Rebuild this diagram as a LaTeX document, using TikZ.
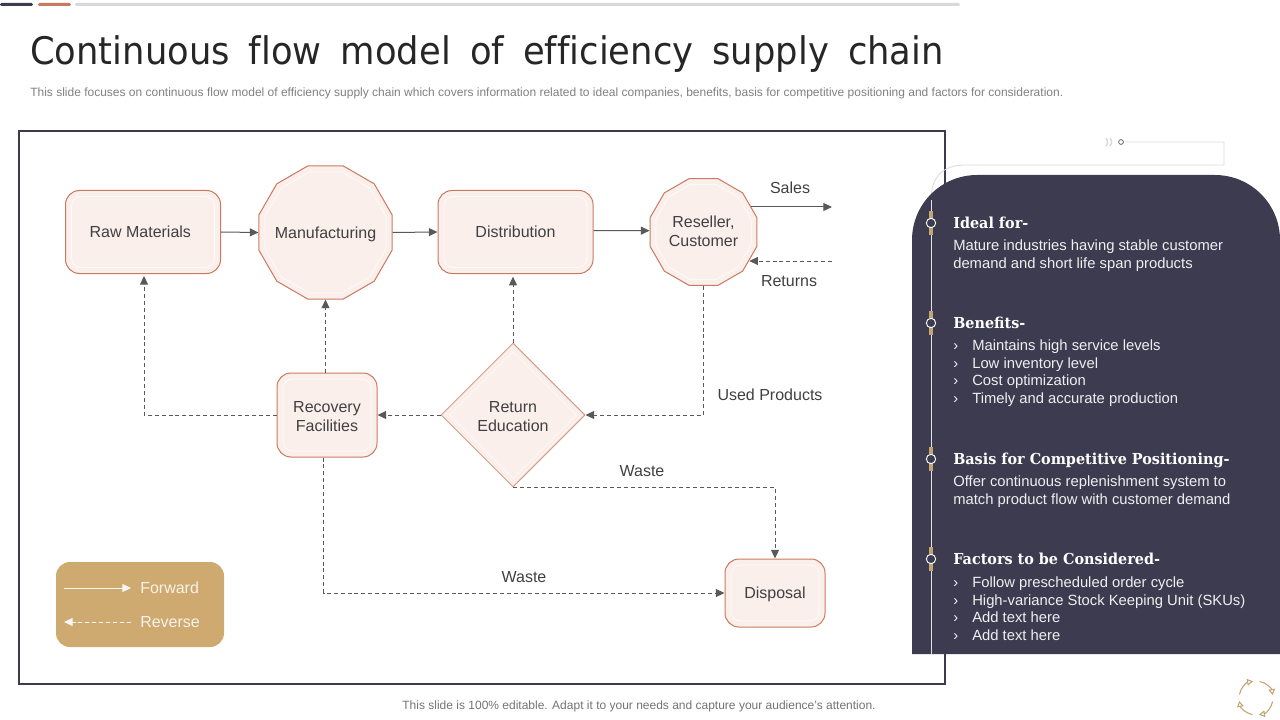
\documentclass[tikz,border=0pt]{standalone}
\usepackage{fontspec}
\setmainfont{Liberation Sans}
\newfontfamily\titlefont[WordSpace=1.7,FakeStretch=0.93,Ligatures={NoCommon}]{DejaVu Sans}
\newfontfamily\headfont[FakeStretch=0.95]{DejaVu Serif}
\usetikzlibrary{arrows.meta,shapes.geometric}
\definecolor{slate}{HTML}{3D3B4F}
\definecolor{rust}{HTML}{C9795F}
\definecolor{blush}{HTML}{FBEFEC}
\definecolor{tan}{HTML}{CFAA70}
\definecolor{ink}{HTML}{404040}
\definecolor{wire}{HTML}{595959}
\definecolor{haze}{HTML}{D9D9D9}
\tikzset{
	flow/.style={draw=wire,line width=0.75pt,-{Triangle[length=6.5pt,width=6pt]}},
	back/.style={flow,dash pattern=on 3pt off 2.2pt},
	label/.style={font=\fontsize{12}{14.25}\selectfont,text=ink,inner sep=0pt,align=center},
	oneline/.style={text height=11.6pt,text depth=3pt},
	roundbox/.style={label,rectangle,draw=rust,fill=blush,line width=0.75pt,rounded corners=10.5pt},
	roundin/.style={rectangle,draw=white!70!blush,line width=0.6pt,rounded corners=7pt,inner sep=0pt},
	polybox/.style={label,regular polygon,regular polygon sides=12,draw=rust,fill=blush,line width=0.75pt},
	polyin/.style={regular polygon,regular polygon sides=12,draw=white!70!blush,line width=0.6pt,inner sep=0pt},
	diamondbox/.style={label,diamond,aspect=1,draw=rust!75,fill=blush,line width=0.75pt},
	diamondin/.style={diamond,aspect=1,draw=white!70!blush,line width=0.6pt,inner sep=0pt},
	panelhead/.style={anchor=west,inner sep=0pt,text=white,font=\headfont\bfseries\fontsize{11.35}{14}\selectfont,text height=9pt,text depth=2.5pt},
	paneltext/.style={anchor=west,inner sep=0pt,text=white!92!slate,font=\fontsize{11.1}{14}\selectfont,text height=8.5pt,text depth=2.5pt},
	marker/.style={circle,draw=white,fill=slate,line width=0.7pt,minimum size=7pt,inner sep=0pt},
	legendtext/.style={anchor=west,inner sep=0pt,text=white!85!tan,font=\fontsize{12}{14}\selectfont,text height=8.5pt,text depth=2.5pt},
}
\begin{document}
\begin{tikzpicture}[x=0.75pt,y=-0.75pt]
	\useasboundingbox (0,0) rectangle (1280,720);
	\fill[slate,rounded corners=1pt] (0,3) rectangle (33,6);
	\fill[rust,rounded corners=1pt] (38,3) rectangle (71,6);
	\fill[haze,rounded corners=1pt] (75,3) rectangle (960,6);
	\node[anchor=west,inner sep=0pt,text=black!85,font=\titlefont\fontsize{28.5}{34}\selectfont] (title) at (30,54) {Continuous flow model of efficiency supply chain};
	\node[anchor=west,inner sep=0pt,text=black!50,font=\fontsize{9}{11}\selectfont] (subtitle) at (30,93) {This slide focuses on continuous flow model of efficiency supply chain which covers information related to ideal companies, benefits, basis for competitive positioning and factors for consideration.};
	\draw[slate,line width=1.9pt] (19,131) rectangle (945,684);

	\node[roundbox,oneline,minimum width=116.25pt,minimum height=62.25pt] (raw) at (143,232) {Raw Materials\hspace*{4pt}};
	\node[roundin,minimum width=107.25pt,minimum height=53.25pt] (rawin) at (143,232) {};
	\node[polybox,oneline,minimum size=103.3pt] (manuf) at (325.5,232.5) {\makebox[0pt]{Manufacturing}};
	\node[polyin,minimum size=94pt] (manufin) at (325.5,232.5) {};
	\node[roundbox,oneline,minimum width=116.25pt,minimum height=62.25pt] (dist) at (515.5,232) {Distribution};
	\node[roundin,minimum width=107.25pt,minimum height=53.25pt] (distin) at (515.5,232) {};
	\node[polybox,minimum size=83pt] (reseller) at (703.5,232) {\makebox[0pt]{\begin{tabular}{@{}c@{}}\rule{0pt}{11.5pt}Reseller,\\[-0.2pt]Customer\end{tabular}}};
	\node[polyin,minimum size=74pt] (resellerin) at (703.5,232) {};
	\node[roundbox,minimum width=75pt,minimum height=63pt] (recovery) at (327,415) {\rule{0pt}{10.3pt}Recovery\\Facilities};
	\node[roundin,minimum width=66pt,minimum height=54pt] (recoveryin) at (327,415) {};
	\node[diamondbox,minimum size=108pt,inner sep=0pt] (return) at (513,415) {\rule{0pt}{10.3pt}Return\\Education};
	\node[diamondin,minimum size=95pt] (returnin) at (513,415) {};
	\node[roundbox,oneline,minimum width=75pt,minimum height=51pt] (disposal) at (775,593) {Disposal};
	\node[roundin,minimum width=66pt,minimum height=42pt] (disposalin) at (775,593) {};

	\coordinate (salesend) at (832,207);
	\coordinate (returnsend) at (832,261);
	\draw[flow] (raw.east) -- (manuf.west);
	\draw[flow] (manuf.east) -- (dist.west);
	\draw[flow] ([yshift=1pt]dist.east) -- ([yshift=1pt]reseller.west);
	\draw[flow] (reseller.28 |- salesend) -- (salesend);
	\draw[back] (returnsend) -- (reseller.-32 |- returnsend);
	\draw[back] (reseller.south) |- (return.east);
	\draw[back,shorten >=2pt] (return.north) -- (return.north |- dist.south);
	\draw[back] (return.west) -- (recovery.east);
	\draw[back,shorten >=1.5pt] (recovery.west) -| ([xshift=0.75pt]raw.south);
	\draw[back] (manuf.south |- recovery.north) -- (manuf.south);
	\draw[back] ([xshift=-2.6pt]recovery.south) |- (disposal.west);
	\draw[back] (return.south) -| (disposal.north);

	\node[label] (sales) at (790,188) {Sales};
	\node[label] (returns) at (789,281) {Returns};
	\node[label] (used) at (770,395) {Used Products};
	\node[label] (wasteup) at (642,471) {Waste};
	\node[label] (wastedown) at (524,577) {Waste};

	\node[rectangle,fill=tan,rounded corners=10.5pt,minimum width=126pt,minimum height=63.75pt,inner sep=0pt] (legend) at (140,604.5) {};
	\coordinate (fwdstart) at (64,588);
	\coordinate (fwdend) at (131,588);
	\coordinate (revstart) at (131,622);
	\coordinate (revend) at (64,622);
	\draw[flow,draw=white!90!tan,fill=white!90!tan] (fwdstart) -- (fwdend);
	\draw[back,draw=white!90!tan,fill=white!90!tan] (revstart) -- (revend);
	\node[legendtext] (forward) at (140,589) {Forward};
	\node[legendtext] (reverse) at (140,623) {Reverse};

	\draw[haze,line width=0.6pt] (931,654) -- (931,200) .. controls (931,178) and (942,165) .. (965,165) -- (1224,165) -- (1224,142) -- (1125,142);
	\fill[slate] (912,654) -- (912,240) arc[start angle=180,end angle=90,radius=48.75pt] -- (1215,175) arc[start angle=90,end angle=0,radius=48.75pt] -- (1280,654) -- cycle;
	\draw[white!85!slate,line width=0.6pt] (931,654) -- (931,200);
	\node[circle,draw=black!70,line width=0.5pt,minimum size=3.6pt,inner sep=0pt] (tick) at (1121,142) {};
	\draw[haze,line width=1.1pt] (1106,138) .. controls (1108,141) and (1108,143) .. (1106,146);
	\draw[haze,line width=1.1pt] (1110,138) .. controls (1112,141) and (1112,143) .. (1110,146);

	\foreach \mk/\y in {ma/223,mb/323,mc/459,md/559}{
		\fill[tan!85!gray] (929,\y-12) rectangle (933,\y+12);
		\node[marker] (\mk) at (931,\y) {};
	}

	\node[panelhead] (ideal) at (953,224) {Ideal for-};
	\node[paneltext] (ideala) at (953,246) {Mature industries having stable customer};
	\node[paneltext] (idealb) at (953,264) {demand and short life span products};
	\node[panelhead] (benefits) at (953,324) {Benefits-};
	\node[paneltext] (bda) at (953,346) {›};
	\node[paneltext] (bdb) at (953,364) {›};
	\node[paneltext] (bdc) at (953,381) {›};
	\node[paneltext] (bdd) at (953,399) {›};
	\node[paneltext] (bena) at (972,346) {Maintains high service levels};
	\node[paneltext] (benb) at (972,364) {Low inventory level};
	\node[paneltext] (benc) at (972,381) {Cost optimization};
	\node[paneltext] (bend) at (972,399) {Timely and accurate production};
	\node[panelhead] (basis) at (953,460) {Basis for Competitive Positioning-};
	\node[paneltext] (basisa) at (953,482) {Offer continuous replenishment system to};
	\node[paneltext] (basisb) at (953,500) {match product flow with customer demand};
	\node[panelhead] (factors) at (953,560) {Factors to be Considered-};
	\node[paneltext] (fda) at (953,583) {›};
	\node[paneltext] (fdb) at (953,601) {›};
	\node[paneltext] (fdc) at (953,618) {›};
	\node[paneltext] (fdd) at (953,636) {›};
	\node[paneltext] (faca) at (972,583) {Follow prescheduled order cycle};
	\node[paneltext] (facb) at (972,601) {High-variance Stock Keeping Unit (SKUs)};
	\node[paneltext] (facc) at (972,618) {Add text here};
	\node[paneltext] (facd) at (972,636) {Add text here};

	\node[inner sep=0pt,text=black!55,font=\fontsize{9}{11}\selectfont] (foot) at (639,706) {This slide is 100\% editable. Adapt it to your needs and capture your audience's attention.};
	\foreach \a in {100,10,-80,-170}{
		\draw[tan!85!gray,line width=0.8pt,-{Triangle[open,length=4.5pt,width=5pt]}] (1256,698) ++(\a+68:12.75pt) arc[start angle=\a+68,end angle=\a,radius=12.75pt];
	}
\end{tikzpicture}
\end{document}
